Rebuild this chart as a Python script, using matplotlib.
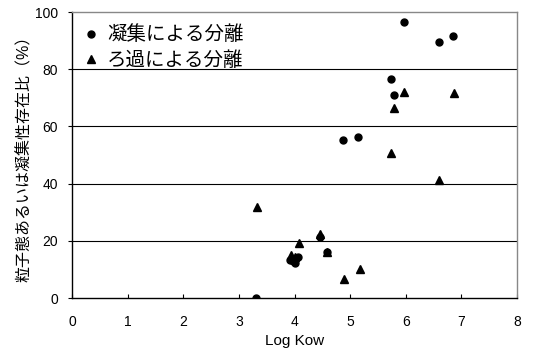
import matplotlib
matplotlib.use("Agg")
import matplotlib.pyplot as plt

plt.rcParams['font.family'] = ['Liberation Sans', 'Noto Sans CJK JP', 'DejaVu Sans']

# 凝集による分離 (circles)
coag_x = [3.31, 3.92, 4.01, 4.06, 3.97, 4.45, 4.58, 4.87, 5.14, 5.73, 5.78, 5.96, 6.59, 6.85]
coag_y = [0.0, 13.3, 12.2, 14.3, 13.0, 21.5, 16.0, 55.2, 56.3, 76.6, 70.9, 96.6, 89.6, 91.6]

# ろ過による分離 (triangles)
filt_x = [3.32, 3.93, 4.01, 4.08, 4.45, 4.58, 4.89, 5.17, 5.74, 5.78, 5.97, 6.59, 6.86]
filt_y = [31.9, 15.0, 14.5, 19.3, 22.3, 16.2, 6.6, 10.0, 50.6, 66.5, 72.1, 41.1, 71.6]

fig = plt.figure(figsize=(5.33, 3.56), dpi=100)
ax = fig.add_axes([72/533, 1 - 298/356, 445/533, 286/356])

for yv in [20, 40, 60, 80]:
    ax.axhline(yv, color='black', linewidth=0.8, zorder=1)

ax.plot(coag_x, coag_y, 'o', color='black', markersize=5, zorder=3,
        label='凝集による分離')
ax.plot(filt_x, filt_y, '^', color='black', markersize=5.5, zorder=3,
        label='ろ過による分離')

ax.set_xlim(0, 8)
ax.set_ylim(0, 100)
ax.set_xticks(range(0, 9))
ax.set_yticks(range(0, 101, 20))
ax.tick_params(axis='x', direction='in', length=3, labelsize=10, pad=12)
ax.tick_params(axis='y', direction='out', length=3, labelsize=10, pad=7)

for s in ['left', 'bottom']:
    ax.spines[s].set_color('black')
    ax.spines[s].set_linewidth(1.0)
for s in ['top', 'right']:
    ax.spines[s].set_color('#888888')
    ax.spines[s].set_linewidth(1.0)

ax.set_xlabel('Log Kow', fontsize=11, labelpad=4)
ax.set_ylabel('粒子態あるいは凝集性存在比（%）', fontsize=11.5, labelpad=2)

leg = ax.legend(loc='upper left', frameon=False, fontsize=14, handlelength=0.6,
                handletextpad=0.5, borderaxespad=0.3, labelspacing=0.35,
                borderpad=0.4)

fig.savefig('out.png', dpi=100)
